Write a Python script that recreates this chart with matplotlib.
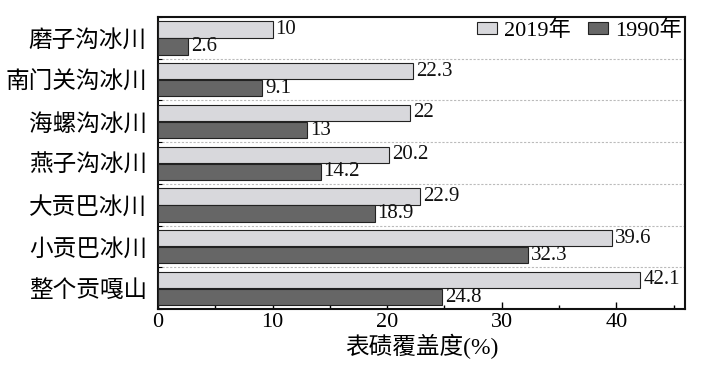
import numpy as np
import matplotlib.pyplot as plt
from matplotlib.ticker import MultipleLocator

# data, top to bottom as in the figure
glaciers = ["磨子沟冰川", "南门关沟冰川", "海螺沟冰川", "燕子沟冰川",
            "大贡巴冰川", "小贡巴冰川", "整个贡嘎山"]
cover_2019 = [10, 22.3, 22, 20.2, 22.9, 39.6, 42.1]
cover_1990 = [2.6, 9.1, 13, 14.2, 18.9, 32.3, 24.8]
series_names = ["2019年", "1990年"]

LIGHT = "#d8d8dc"
DARK = "#666666"
FONT = ["Liberation Serif", "Noto Sans CJK SC"]
plt.rcParams['font.family'] = FONT

fig = plt.figure(figsize=(7.28, 3.77), dpi=100)
ax = fig.add_axes([0.217, 0.180, 0.724, 0.775])

y = np.arange(len(glaciers))[::-1]
h = 0.39
b1 = ax.barh(y + 0.2, cover_2019, height=h, color=LIGHT, edgecolor="#222222",
             linewidth=0.8, label=series_names[0], zorder=3)
b2 = ax.barh(y - 0.21, cover_1990, height=h, color=DARK, edgecolor="#222222",
             linewidth=0.8, label=series_names[1], zorder=3)

for bars, vals in ((b1, cover_2019), (b2, cover_1990)):
    for bar, v in zip(bars, vals):
        ax.text(bar.get_width() + 0.25, bar.get_y() + bar.get_height() / 2,
                f"{v:g}", va="center", ha="left", fontsize=15, color="#111111")

# dotted separators between groups
for yb in np.arange(0.5, len(glaciers) - 1, 1.0):
    ax.axhline(yb, color="#bbbbbb", lw=0.8, ls=(0, (2, 1.5)), zorder=1)

ax.set_xlim(0, 46)
ax.set_ylim(-0.5, len(glaciers) - 0.5)
ax.xaxis.set_major_locator(MultipleLocator(10))
ax.xaxis.set_minor_locator(MultipleLocator(5))
ax.set_yticks(y)
ax.set_yticklabels(glaciers, family="Noto Sans CJK SC", fontsize=17)
ax.set_yticks(np.arange(-0.5, len(glaciers), 1.0), minor=True)
ax.tick_params(axis="y", which="major", length=0, pad=8)
ax.tick_params(axis="y", which="minor", direction="in", length=3, width=0.8)
ax.tick_params(axis="x", which="both", direction="in", labelsize=16, width=1)
ax.tick_params(axis="x", which="major", length=5, pad=3)
ax.tick_params(axis="x", which="minor", length=3)

for s in ax.spines.values():
    s.set_linewidth(1.5)
    s.set_color("#111111")

ax.set_xlabel("表碛覆盖度(%)", fontsize=17, labelpad=1, family=FONT)

ax.legend(loc="upper right", ncol=2, frameon=False, fontsize=16,
          handlelength=0.9, handleheight=0.45, handletextpad=0.3,
          columnspacing=0.8, borderaxespad=0.05, borderpad=0.1)

fig.savefig("out.png", dpi=100)
